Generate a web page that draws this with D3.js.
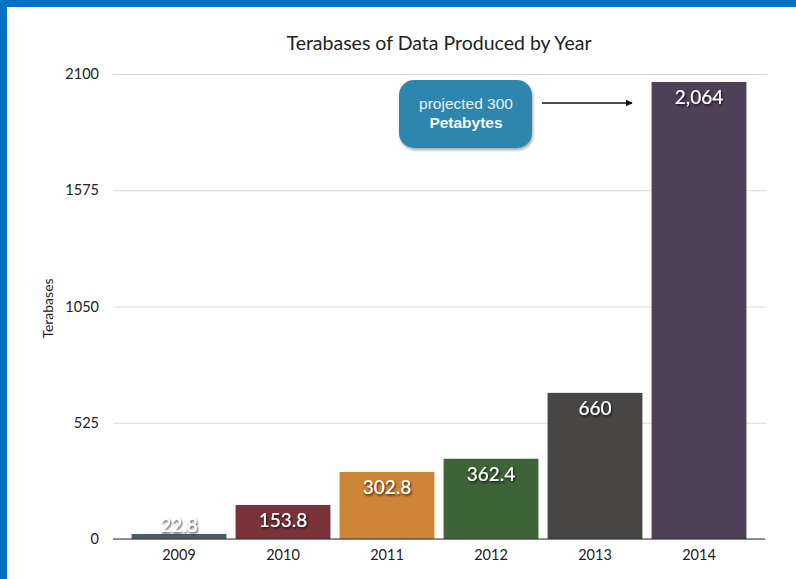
<!DOCTYPE html>
<html>
<head>
<meta charset="utf-8">
<script src="https://cdn.jsdelivr.net/npm/d3@7/dist/d3.min.js"></script>
<style>
  html, body { margin: 0; padding: 0; background: #fff; }
  svg { display: block; }
</style>
</head>
<body>
<svg id="chart" width="796" height="579"></svg>
<script>
// Sequencing output per year, in terabases
const years = ["2009", "2010", "2011", "2012", "2013", "2014"];
const terabases = [22.8, 153.8, 302.8, 362.4, 660, 2064];
const valueLabels = ["22.8", "153.8", "302.8", "362.4", "660", "2,064"];
const barColors = ["#4b5d67", "#783238", "#cf8538", "#3e6337", "#474645", "#4e4157"];
const yTicks = [0, 525, 1050, 1575, 2100];
const titleText = "Terabases of Data Produced by Year";
const yAxisTitle = "Terabases";
const calloutLines = ["projected 300", "Petabytes"];

const svg = d3.select("#chart");
const W = 796, H = 579;
const font = "'Lato', 'Open Sans', sans-serif";

// Blue frame along the top and left edges
svg.append("rect").attr("x", 0).attr("y", 0).attr("width", W).attr("height", H).attr("fill", "#0072c6");
svg.append("rect").attr("x", 7).attr("y", 7).attr("width", W - 7).attr("height", H - 7).attr("fill", "#ffffff");

const defs = svg.append("defs");
const shadow = defs.append("filter").attr("id", "txtShadow").attr("x", "-20%").attr("y", "-20%").attr("width", "140%").attr("height", "160%");
shadow.append("feDropShadow").attr("dx", 1).attr("dy", 1.5).attr("stdDeviation", 0.8).attr("flood-color", "#000").attr("flood-opacity", 0.75);
const boxShadow = defs.append("filter").attr("id", "boxShadow").attr("x", "-10%").attr("y", "-10%").attr("width", "125%").attr("height", "130%");
boxShadow.append("feDropShadow").attr("dx", 1).attr("dy", 2).attr("stdDeviation", 1.5).attr("flood-color", "#000").attr("flood-opacity", 0.35);
defs.append("marker").attr("id", "arrowHead").attr("viewBox", "0 0 10 10")
  .attr("refX", 9).attr("refY", 5).attr("markerWidth", 7).attr("markerHeight", 7)
  .attr("markerUnits", "userSpaceOnUse").attr("orient", "auto")
  .append("path").attr("d", "M0,0 L10,5 L0,10 Z").attr("fill", "#111");

const plot = { left: 113, right: 767, top: 74, bottom: 539 };

const x = d3.scaleBand().domain(years).range([127, 751]).paddingInner(0.088).paddingOuter(0.044);
const y = d3.scaleLinear().domain([0, 2100]).range([plot.bottom, plot.top]);

// Horizontal gridlines with tick labels
const yAxis = d3.axisLeft(y).tickValues(yTicks).tickSize(-(plot.right - plot.left)).tickPadding(14).tickFormat(d3.format("d"));
const gy = svg.append("g").attr("transform", `translate(${plot.left},0)`).call(yAxis);
gy.select(".domain").remove();
gy.selectAll(".tick line").attr("stroke", "#d9d9d6").attr("stroke-width", 1.2);
gy.selectAll(".tick text").attr("font-family", font).attr("font-size", 14.5).attr("fill", "#222");

// Bars
const data = years.map((yr, i) => ({ yr, v: terabases[i], label: valueLabels[i], color: barColors[i] }));
svg.append("g").selectAll("rect").data(data).join("rect")
  .attr("x", d => x(d.yr))
  .attr("y", d => y(d.v))
  .attr("width", x.bandwidth())
  .attr("height", d => y(0) - y(d.v))
  .attr("fill", d => d.color);

// Baseline
svg.append("line").attr("x1", plot.left).attr("x2", plot.right - 2).attr("y1", y(0)).attr("y2", y(0))
  .attr("stroke", "#333").attr("stroke-width", 1.2);

// Value labels near the top of each bar
svg.append("g").selectAll("text").data(data).join("text")
  .attr("x", d => x(d.yr) + x.bandwidth() / 2)
  .attr("y", d => Math.min(y(d.v) + 22, y(0) - 7))
  .attr("text-anchor", "middle")
  .attr("font-family", font).attr("font-size", 19).attr("font-weight", 500)
  .attr("fill", "#ffffff").attr("filter", "url(#txtShadow)")
  .text(d => d.label);

// Category axis
const xAxis = d3.axisBottom(x).tickSize(0).tickPadding(11);
const gx = svg.append("g").attr("transform", `translate(0,${y(0)})`).call(xAxis);
gx.select(".domain").remove();
gx.selectAll(".tick text").attr("font-family", font).attr("font-size", 14.5).attr("fill", "#222");

// Titles
svg.append("text").attr("x", 439).attr("y", 50).attr("text-anchor", "middle")
  .attr("font-family", font).attr("font-size", 19.5).attr("fill", "#222").text(titleText);
svg.append("text").attr("transform", `translate(53,${(plot.top + plot.bottom) / 2 + 2}) rotate(-90)`)
  .attr("text-anchor", "middle").attr("font-family", font).attr("font-size", 14).attr("fill", "#222").text(yAxisTitle);

// Callout box and arrow pointing at the 2014 bar
const callout = svg.append("g");
callout.append("rect").attr("x", 399).attr("y", 80).attr("width", 133).attr("height", 68).attr("rx", 15)
  .attr("fill", "#2f86ae").attr("filter", "url(#boxShadow)");
callout.append("text").attr("x", 466).attr("y", 109).attr("text-anchor", "middle")
  .attr("font-family", "'Liberation Sans', Arial, sans-serif").attr("font-size", 15.5).attr("fill", "#e8f1f6")
  .text(calloutLines[0]);
callout.append("text").attr("x", 466).attr("y", 128).attr("text-anchor", "middle")
  .attr("font-family", "'Liberation Sans', Arial, sans-serif").attr("font-size", 15.5).attr("font-weight", "bold").attr("fill", "#f4f8fb")
  .text(calloutLines[1]);
callout.append("line").attr("x1", 542).attr("x2", 632).attr("y1", 103).attr("y2", 103)
  .attr("stroke", "#111").attr("stroke-width", 1.5).attr("marker-end", "url(#arrowHead)");
</script>
</body>
</html>
